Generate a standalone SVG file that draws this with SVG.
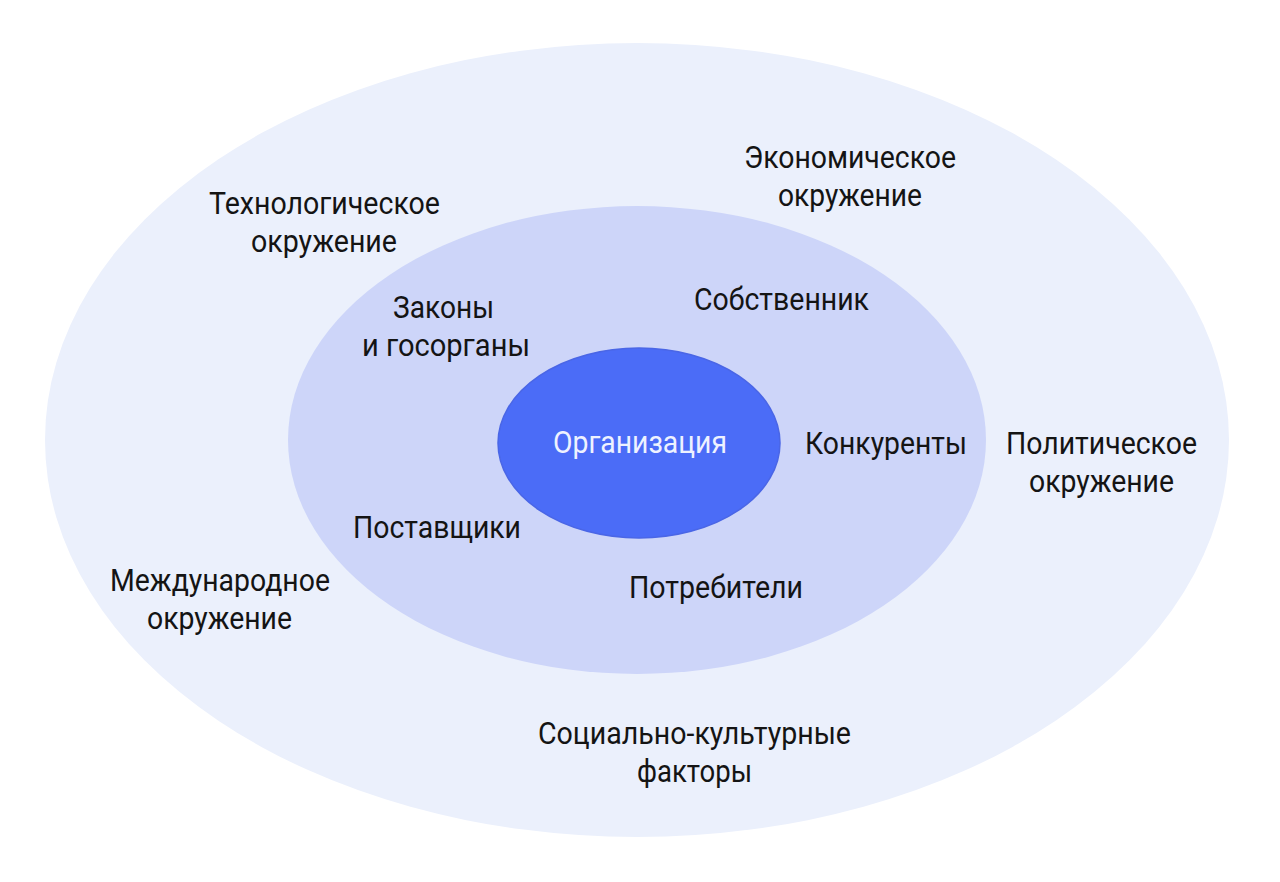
<svg xmlns="http://www.w3.org/2000/svg" width="1280" height="882" viewBox="0 0 1280 882">
<style>
.t{font-family:Roboto,"Liberation Sans",sans-serif;font-size:31.5px;fill:#141414;text-anchor:middle}
.w{fill:#EEF2FF}
</style>
<rect width="1280" height="882" fill="#FFFFFF"/>
<g id="outer">
<ellipse cx="637" cy="440" rx="592" ry="397" fill="#EBF0FC"/>
</g>
<g id="middle">
<ellipse cx="637" cy="440" rx="349" ry="234" fill="#CDD5F9"/>
</g>
<g id="inner">
<ellipse cx="639" cy="443" rx="141" ry="95" fill="#4B6CF7" stroke="#4A66E6" stroke-width="1.5"/>
<text class="t w" x="640" y="453" textLength="174" lengthAdjust="spacingAndGlyphs">Организация</text>
</g>
<g id="connectors"></g>
<g id="labels">
<text class="t" x="324.5" y="214" textLength="231" lengthAdjust="spacingAndGlyphs">Технологическое</text>
<text class="t" x="324" y="252" textLength="146" lengthAdjust="spacingAndGlyphs">окружение</text>
<text class="t" x="850" y="168" textLength="212" lengthAdjust="spacingAndGlyphs">Экономическое</text>
<text class="t" x="850" y="206" textLength="144" lengthAdjust="spacingAndGlyphs">окружение</text>
<text class="t" x="443.5" y="318" textLength="101" lengthAdjust="spacingAndGlyphs">Законы</text>
<text class="t" x="446" y="356" textLength="168" lengthAdjust="spacingAndGlyphs">и госорганы</text>
<text class="t" x="781.5" y="310" textLength="175" lengthAdjust="spacingAndGlyphs">Собственник</text>
<text class="t" x="886" y="454" textLength="162" lengthAdjust="spacingAndGlyphs">Конкуренты</text>
<text class="t" x="1101.5" y="454" textLength="191" lengthAdjust="spacingAndGlyphs">Политическое</text>
<text class="t" x="1101.5" y="492" textLength="145" lengthAdjust="spacingAndGlyphs">окружение</text>
<text class="t" x="437" y="538" textLength="168" lengthAdjust="spacingAndGlyphs">Поставщики</text>
<text class="t" x="716" y="598" textLength="174" lengthAdjust="spacingAndGlyphs">Потребители</text>
<text class="t" x="220" y="591" textLength="220" lengthAdjust="spacingAndGlyphs">Международное</text>
<text class="t" x="219.5" y="629" textLength="145" lengthAdjust="spacingAndGlyphs">окружение</text>
<text class="t" x="694.5" y="744" textLength="313" lengthAdjust="spacingAndGlyphs">Социально-культурные</text>
<text class="t" x="694.5" y="782" textLength="115" lengthAdjust="spacingAndGlyphs">факторы</text>
</g>
</svg>
